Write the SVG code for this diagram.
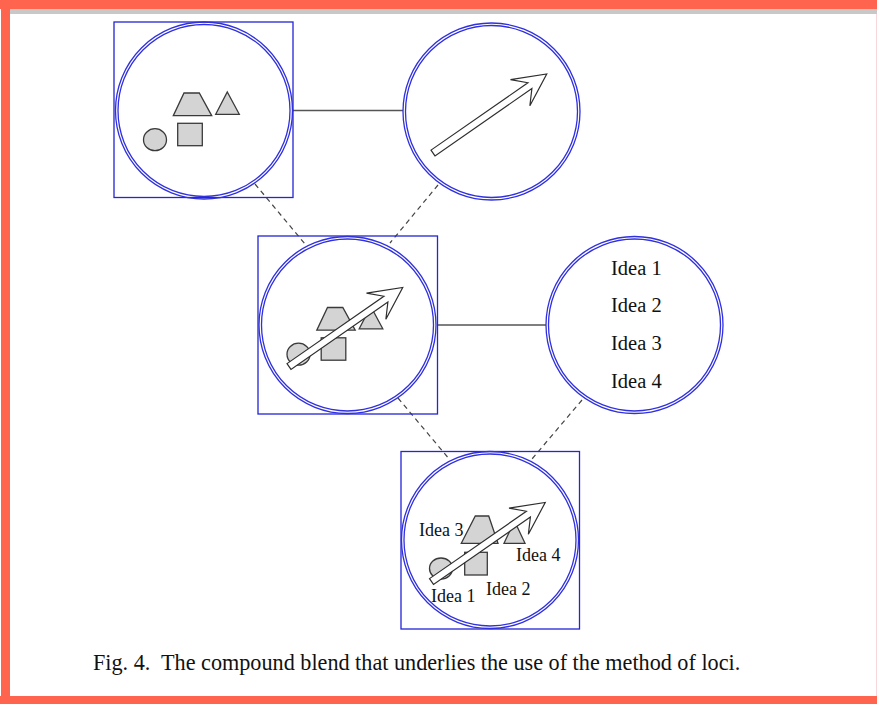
<svg xmlns="http://www.w3.org/2000/svg" width="877" height="704" viewBox="0 0 877 704">
  <style>
    .ring { fill: none; stroke: #3030dc; stroke-width: 1.3; }
    .box { fill: none; stroke: #2424d8; stroke-width: 1.3; }
    .shape { fill: #d4d4d4; stroke: #3a3a3a; stroke-width: 1.3; }
    .arrow { fill: #ffffff; stroke: #2e2e2e; stroke-width: 1.2; stroke-linejoin: miter; }
    .solid { stroke: #555555; stroke-width: 1.5; fill: none; }
    .dash { stroke: #444444; stroke-width: 1.2; stroke-dasharray: 5 4; fill: none; }
    .idea { font-family: "Liberation Serif", "Times New Roman", serif; fill: #111111; }
    .caption { font-family: "Liberation Serif", "Times New Roman", serif; font-size: 22.2px; fill: #111111; }
  </style>
  <defs>
    <!-- double blue ring used for every mental space -->
    <g id="ring">
      <circle class="ring" cx="0" cy="0" r="88.5"/>
      <circle class="ring" cx="0" cy="0" r="86"/>
    </g>
    <!-- the loci: four grey objects, relative to the space centre -->
    <g id="loci">
      <polygon class="shape" points="-20,-17.5 -4.7,-17.5 7.7,5.2 -30.7,5.2"/>
      <polygon class="shape" points="23.3,-18.5 35.3,3.8 11.7,3.8"/>
      <rect class="shape" x="-26.3" y="12.8" width="24.6" height="22.4"/>
      <ellipse class="shape" cx="-49" cy="29.2" rx="11.5" ry="11"/>
    </g>
    <!-- hollow arrow, drawn along +x from its tail -->
    <polygon id="arrow" class="arrow" points="0,-3.5 118,-3.5 105.5,-16 138.5,0 106.5,16.5 118,3.5 0,3.5"/>
  </defs>

  <!-- page frame -->
  <rect x="0" y="0" width="877" height="704" fill="#ffffff"/>
  <rect x="10" y="9" width="867" height="5" fill="#c8c8c8"/>
  <rect x="0" y="0" width="877" height="9" fill="#ff644f"/>
  <rect x="1" y="0" width="9" height="704" fill="#ff644f"/>
  <rect x="0" y="696" width="877" height="8" fill="#ff644f"/>
  <line x1="876.5" y1="14" x2="876.5" y2="696" stroke="#f6d8dc" stroke-width="1"/>

  <!-- connectors -->
  <g id="connectors">
    <line class="solid" x1="293" y1="110.5" x2="403" y2="110.5"/>
    <line class="solid" x1="437.5" y1="325" x2="546" y2="325"/>
    <line class="dash" x1="255" y1="184" x2="305" y2="244"/>
    <line class="dash" x1="438" y1="185" x2="390" y2="243"/>
    <line class="dash" x1="398" y1="398" x2="450" y2="460"/>
    <line class="dash" x1="582" y1="400" x2="532" y2="459"/>
  </g>

  <!-- input space: the loci -->
  <g id="space-loci">
    <rect class="box" x="114" y="22" width="179" height="175.5"/>
    <use href="#ring" transform="translate(204 110.5)"/>
    <use href="#loci" transform="translate(204 110.5)"/>
  </g>

  <!-- input space: the journey -->
  <g id="space-journey">
    <use href="#ring" transform="translate(491.5 111.5)"/>
    <use href="#arrow" transform="translate(433 153) rotate(-34.8)"/>
  </g>

  <!-- blend of loci and journey -->
  <g id="space-route">
    <rect class="box" x="258" y="236" width="179.5" height="178"/>
    <use href="#ring" transform="translate(347.5 325)"/>
    <use href="#loci" transform="translate(347.5 325)"/>
    <use href="#arrow" transform="translate(289 366.5) rotate(-34.8)"/>
  </g>

  <!-- input space: the ideas -->
  <g id="space-ideas">
    <use href="#ring" transform="translate(634.5 325)"/>
    <text class="idea" font-size="20.5" x="611" y="274.5">Idea 1</text>
    <text class="idea" font-size="20.5" x="611" y="312">Idea 2</text>
    <text class="idea" font-size="20.5" x="611" y="350">Idea 3</text>
    <text class="idea" font-size="20.5" x="611" y="387.5">Idea 4</text>
  </g>

  <!-- compound blend -->
  <g id="space-compound">
    <rect class="box" x="401" y="451.5" width="178.5" height="177.5"/>
    <use href="#ring" transform="translate(490 540)"/>
    <polygon class="shape" points="475.3,516 488.7,516 498,543.3 461.3,543.3"/>
    <polygon class="shape" points="514.5,521 525,543.3 504,543.3"/>
    <rect class="shape" x="464.7" y="552.3" width="22.6" height="22.7"/>
    <ellipse class="shape" cx="441" cy="568.5" rx="11.5" ry="10.5"/>
    <use href="#arrow" transform="translate(431.5 581.5) rotate(-34.8)"/>
    <text class="idea" font-size="18" x="419" y="535.5">Idea 3</text>
    <text class="idea" font-size="18" x="516" y="561">Idea 4</text>
    <text class="idea" font-size="18" x="431" y="602">Idea 1</text>
    <text class="idea" font-size="18" x="486" y="594.5">Idea 2</text>
  </g>

  <text class="caption" x="93" y="670" xml:space="preserve">Fig. 4.  The compound blend that underlies the use of the method of loci.</text>
</svg>
